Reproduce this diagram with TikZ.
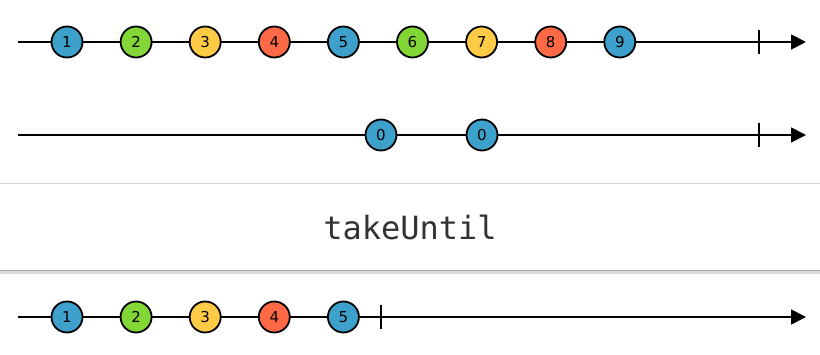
\documentclass[tikz,border=0pt]{standalone}
\usepackage{fontspec}
\usepackage{tikz}
\usetikzlibrary{arrows.meta,positioning}
\newfontfamily\marblefont{DejaVu Sans}
\newfontfamily\opfont{DejaVu Sans Mono}
\definecolor{marbleblue}{RGB}{62,161,203}
\definecolor{marblegreen}{RGB}{130,215,54}
\definecolor{marbleyellow}{RGB}{255,203,70}
\definecolor{marblered}{RGB}{255,105,70}
\definecolor{optext}{RGB}{51,51,51}

\begin{document}
\begin{tikzpicture}[x=1pt, y=-1pt,
    marble/.style={circle, draw=black, line width=1.8pt, minimum size=31pt,
                   inner sep=0pt, font=\marblefont\fontsize{15}{15}\selectfont},
    timeline/.style={line width=1.8pt, -{Triangle[length=15pt, width=15pt]}},
    stopmark/.style={line width=1.8pt},
    opbox/.style={fill=white, minimum width=820pt, minimum height=86pt,
                  inner sep=0pt, font=\opfont\fontsize{32}{32}\selectfont, text=optext}
]
\useasboundingbox[fill=white] (0,0) rectangle (820,355);

% source stream
\coordinate (s1) at (18,42);
\coordinate (e1) at (806,42);
\coordinate (k1) at (759,42);
\draw[timeline] (s1) -- (e1);
\draw[stopmark] ([yshift=12pt]k1) -- ([yshift=-12pt]k1);
\foreach \n/\c in {1/marbleblue, 2/marblegreen, 3/marbleyellow, 4/marblered, 5/marbleblue,
                   6/marblegreen, 7/marbleyellow, 8/marblered, 9/marbleblue}
    \node[marble, fill=\c] (a\n) at ({67+69.1*(\n-1)},42) {\n};

% notifier stream
\coordinate (s2) at (18,135);
\coordinate (e2) at (806,135);
\coordinate (k2) at (759,135);
\draw[timeline] (s2) -- (e2);
\draw[stopmark] ([yshift=12pt]k2) -- ([yshift=-12pt]k2);
\node[marble, fill=marbleblue] (b1) at (381,135) {0};
\node[marble, fill=marbleblue] (b2) at (482,135) {0};

% operator
\fill[black!35] (0,268) rectangle (820,271);
\fill[black!15] (0,271) rectangle (820,274);
\node[opbox] (op) at (410,227) {takeUntil};
\draw[black!15, line width=1pt] (op.north west) -- (op.north east);

% result stream
\coordinate (s3) at (18,317);
\coordinate (e3) at (806,317);
\coordinate (k3) at (381,317);
\draw[timeline] (s3) -- (e3);
\draw[stopmark] ([yshift=12pt]k3) -- ([yshift=-12pt]k3);
\foreach \n/\c in {1/marbleblue, 2/marblegreen, 3/marbleyellow, 4/marblered, 5/marbleblue}
    \node[marble, fill=\c] (c\n) at ({67+69.1*(\n-1)},317) {\n};
\end{tikzpicture}
\end{document}
